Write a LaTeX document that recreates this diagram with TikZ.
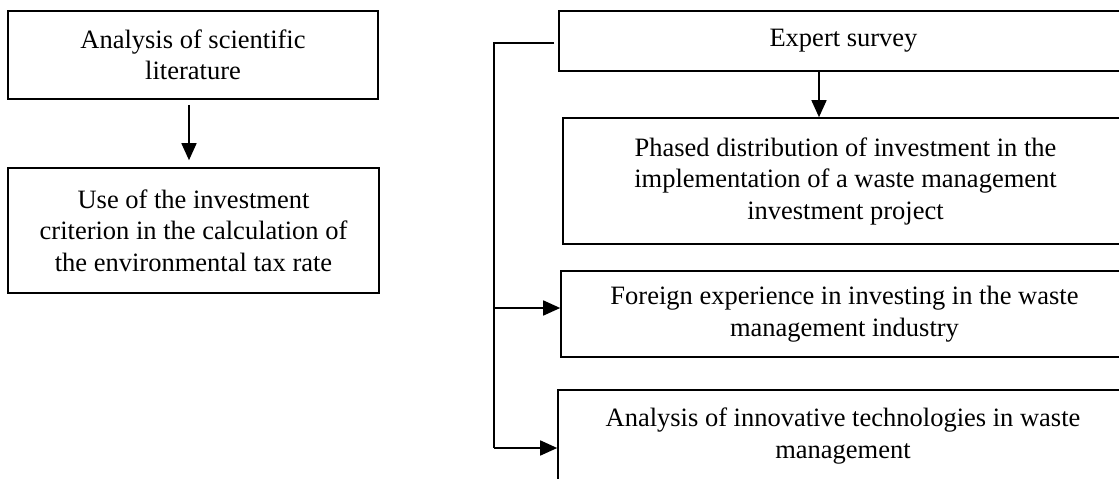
\documentclass[tikz,border=0pt]{standalone}
\usepackage{fontspec}
\setmainfont{Liberation Serif}
\usetikzlibrary{arrows.meta}
\begin{document}
\begin{tikzpicture}[x=1pt,y=-1pt,
  box/.style={draw,line width=1.6pt,align=center,inner sep=0pt,
    font=\fontsize{26.5}{31.5}\selectfont},
  conn/.style={line width=1.6pt},
  arr/.style={conn,-{Triangle[length=17pt,width=15pt]}}]
\clip (0,0) rectangle (1119,479);
\node[box,minimum width=370pt,minimum height=88pt] (b1) at (193,55)
  {Analysis of scientific\\literature};
\node[box,minimum width=371pt,minimum height=125pt] (b2) at (193.5,230.5)
  {Use of the investment\\criterion in the calculation of\\the environmental tax rate};
\node[box,minimum width=569pt,minimum height=60pt] (b3) at (843.5,41)
  {Expert survey};
\node[box,minimum width=565pt,minimum height=126pt] (b4) at (845.5,181)
  {Phased distribution of investment in the\\implementation of a waste management\\investment project};
\node[box,minimum width=567pt,minimum height=86pt] (b5) at (844.5,314)
  {Foreign experience in investing in the waste\\management industry};
\node[box,minimum width=570pt,minimum height=92pt] (b6) at (843,436)
  {Analysis of innovative technologies in waste\\management};
% left arrow
\draw[arr,shorten <=5pt,shorten >=7pt] ([xshift=-4pt]b1.south) -- ([xshift=-4pt]b1.south |- b2.north);
% expert survey arrow
\coordinate (a2) at (819,0);
\draw[arr] (a2 |- b3.south) -- (a2 |- b4.north);
% bracket
\coordinate (t) at (494,43);
\coordinate (j5) at (494,308);
\coordinate (bb) at (494,448);
\draw[conn] ([xshift=-4pt,yshift=-2pt]b3.west) -- (t) -- (bb);
\draw[arr] (j5) -- (j5 -| b5.west);
\draw[arr] (bb) -- (bb -| b6.west);
\end{tikzpicture}
\end{document}
